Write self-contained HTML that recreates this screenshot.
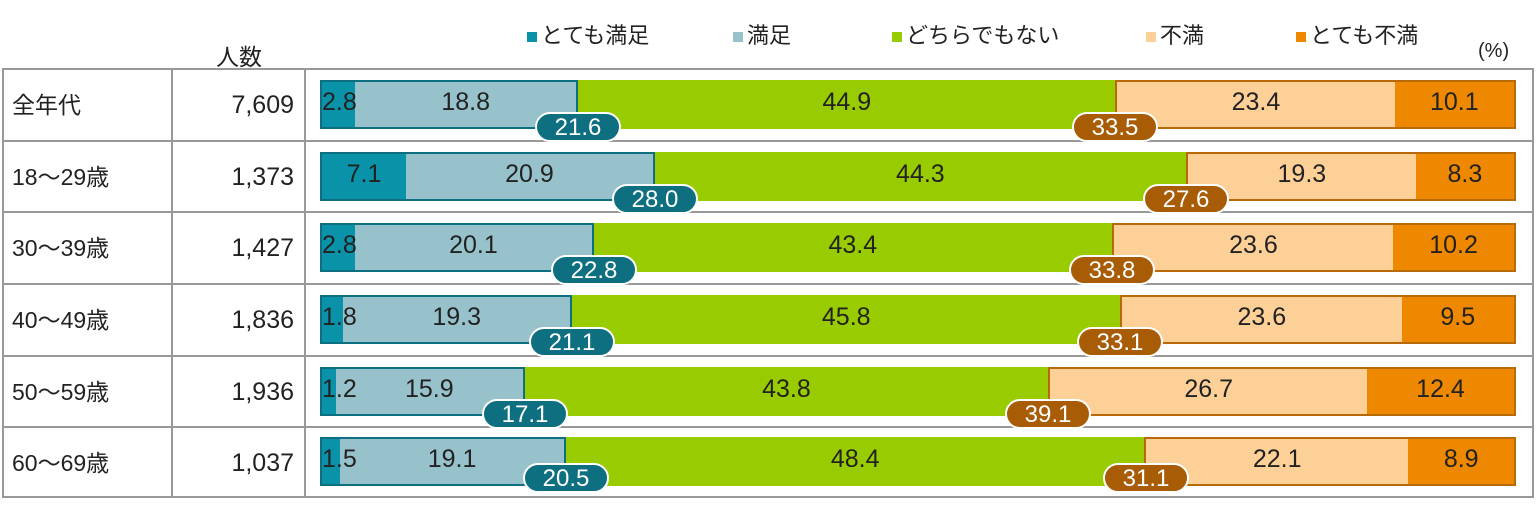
<!DOCTYPE html>
<html><head><meta charset="utf-8"><style>
*{margin:0;padding:0;box-sizing:border-box}
body{width:1536px;height:528px;background:#fff;position:relative;overflow:hidden;font-family:"Liberation Sans","Noto Sans CJK JP",sans-serif;color:#222}
.abs{position:absolute}
.leg{position:absolute;top:22px;font-size:22px;line-height:28px;color:#222;white-space:nowrap}
.leg i{display:inline-block;width:10px;height:10px;margin-right:4px;vertical-align:1px}
.hl{position:absolute;left:2px;width:1532px;height:2px;background:#999}
.vl{position:absolute;top:69px;height:429px;width:2px;background:#999}
.lab{position:absolute;left:12px;font-size:23px;line-height:30px}
.num{position:absolute;left:172px;width:122px;text-align:right;font-size:25px;line-height:30px}
.bar{position:absolute;left:320px;width:1196px;height:49px;display:flex}
.grp{display:flex;height:100%;border:2.5px solid}
.sat{border-color:#0e6f80}
.dis{border-color:#b86a08}
.seg{height:100%;display:flex;align-items:center;justify-content:center;font-size:25px;white-space:nowrap;overflow:visible;padding-bottom:4px;min-width:0}
.a{background:#0a93a8;position:relative;z-index:2}.b{background:#98c2cb}.c{background:#99cc00}.d{background:#fdd098}.e{background:#ee8800}
.sm{justify-content:flex-start;padding-left:0}
.bd{position:absolute;z-index:5;width:86px;height:30px;border:2px solid #fff;border-radius:15px;color:#fff;font-size:24px;text-align:center;line-height:27px;transform:translateX(-50%)}
.bt{background:#0e6f80}.bo{background:#a85c06}
</style></head><body>
<div class="leg" style="left:527px"><i style="background:#0a93a8"></i>とても満足</div>
<div class="leg" style="left:733px"><i style="background:#98c2cb"></i>満足</div>
<div class="leg" style="left:892px"><i style="background:#99cc00"></i>どちらでもない</div>
<div class="leg" style="left:1146px"><i style="background:#fdd098"></i>不満</div>
<div class="leg" style="left:1296px"><i style="background:#ee8800"></i>とても不満</div>
<div class="abs" style="left:1478px;top:40px;font-size:20px">(%)</div>
<div class="abs" style="left:216px;top:38px;font-size:23px">人数</div>

<div class="hl" style="top:68px"></div><div class="hl" style="top:140px"></div><div class="hl" style="top:211px"></div><div class="hl" style="top:283px"></div><div class="hl" style="top:355px"></div><div class="hl" style="top:426px"></div><div class="hl" style="top:496px"></div>
<div class="vl" style="left:2px"></div><div class="vl" style="left:171px"></div><div class="vl" style="left:304px"></div><div class="vl" style="left:1532px"></div>

<div class="lab" style="top:90px">全年代</div><div class="num" style="top:90px">7,609</div>
<div class="lab" style="top:162px">18～29歳</div><div class="num" style="top:162px">1,373</div>
<div class="lab" style="top:233px">30～39歳</div><div class="num" style="top:233px">1,427</div>
<div class="lab" style="top:305px">40～49歳</div><div class="num" style="top:305px">1,836</div>
<div class="lab" style="top:377px">50～59歳</div><div class="num" style="top:377px">1,936</div>
<div class="lab" style="top:448px">60～69歳</div><div class="num" style="top:448px">1,037</div>

<div class="bar" style="top:80px"><div class="grp sat" style="width:21.6%"><div class="seg a sm" style="width:13%">2.8</div><div class="seg b" style="flex:1">18.8</div></div><div class="seg c" style="flex:1">44.9</div><div class="grp dis" style="width:33.5%"><div class="seg d" style="width:69.9%">23.4</div><div class="seg e" style="flex:1">10.1</div></div></div>
<div class="bd bt" style="left:578px;top:112px">21.6</div><div class="bd bo" style="left:1115px;top:112px">33.5</div>

<div class="bar" style="top:152px"><div class="grp sat" style="width:28%"><div class="seg a" style="width:25.4%">7.1</div><div class="seg b" style="flex:1">20.9</div></div><div class="seg c" style="flex:1">44.3</div><div class="grp dis" style="width:27.6%"><div class="seg d" style="width:69.9%">19.3</div><div class="seg e" style="flex:1">8.3</div></div></div>
<div class="bd bt" style="left:655px;top:184px">28.0</div><div class="bd bo" style="left:1186px;top:184px">27.6</div>

<div class="bar" style="top:223px"><div class="grp sat" style="width:22.9%"><div class="seg a sm" style="width:12.2%">2.8</div><div class="seg b" style="flex:1">20.1</div></div><div class="seg c" style="flex:1">43.4</div><div class="grp dis" style="width:33.8%"><div class="seg d" style="width:69.8%">23.6</div><div class="seg e" style="flex:1">10.2</div></div></div>
<div class="bd bt" style="left:594px;top:255px">22.8</div><div class="bd bo" style="left:1112px;top:255px">33.8</div>

<div class="bar" style="top:295px"><div class="grp sat" style="width:21.1%"><div class="seg a sm" style="width:8.5%">1.8</div><div class="seg b" style="flex:1">19.3</div></div><div class="seg c" style="flex:1">45.8</div><div class="grp dis" style="width:33.1%"><div class="seg d" style="width:71.3%">23.6</div><div class="seg e" style="flex:1">9.5</div></div></div>
<div class="bd bt" style="left:572px;top:327px">21.1</div><div class="bd bo" style="left:1120px;top:327px">33.1</div>

<div class="bar" style="top:367px"><div class="grp sat" style="width:17.1%"><div class="seg a sm" style="width:7%">1.2</div><div class="seg b" style="flex:1">15.9</div></div><div class="seg c" style="flex:1">43.8</div><div class="grp dis" style="width:39.1%"><div class="seg d" style="width:68.3%">26.7</div><div class="seg e" style="flex:1">12.4</div></div></div>
<div class="bd bt" style="left:525px;top:399px">17.1</div><div class="bd bo" style="left:1048px;top:399px">39.1</div>

<div class="bar" style="top:437px"><div class="grp sat" style="width:20.6%"><div class="seg a sm" style="width:7.3%">1.5</div><div class="seg b" style="flex:1">19.1</div></div><div class="seg c" style="flex:1">48.4</div><div class="grp dis" style="width:31.1%"><div class="seg d" style="width:71.3%">22.1</div><div class="seg e" style="flex:1">8.9</div></div></div>
<div class="bd bt" style="left:566px;top:463px">20.5</div><div class="bd bo" style="left:1146px;top:463px">31.1</div>
</body></html>
